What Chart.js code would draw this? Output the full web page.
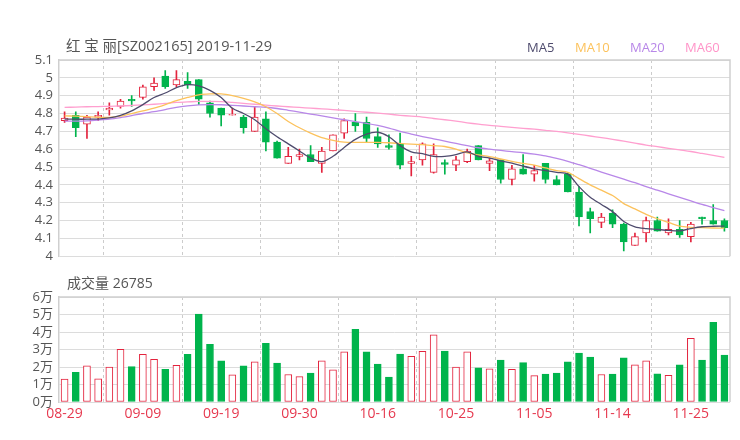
<!DOCTYPE html>
<html>
<head>
<meta charset="utf-8">
<script src="https://cdn.jsdelivr.net/npm/chart.js@4.4.1/dist/chart.umd.min.js"></script>
<style>
  body { margin: 0; background: #fff; }
  #wrap { position: relative; width: 740px; height: 440px; font-family: "Open Sans", "Noto Sans CJK SC", sans-serif; color: #555; }
  .txt { position: absolute; font-size: 14px; line-height: 1; white-space: nowrap; }
  .lg { position: absolute; top: 41px; font-size: 13px; line-height: 1; }
  #kline { position: absolute; left: 0; top: 0; }
  #vol { position: absolute; left: 0; top: 270px; }
</style>
</head>
<body>
<div id="wrap">
  <canvas id="kline" width="740" height="270"></canvas>
  <canvas id="vol" width="740" height="170"></canvas>
  <div class="txt" style="left:66px;top:39px;font-size:14.5px">红 宝 丽[SZ002165] 2019-11-29</div>
  <div class="txt" style="left:67px;top:276px">成交量 <span id="last-vol"></span></div>
  <div class="lg" style="left:527px;color:#4e4b6d">MA5</div>
  <div class="lg" style="left:575px;color:#fcc25c">MA10</div>
  <div class="lg" style="left:630px;color:#b887e8">MA20</div>
  <div class="lg" style="left:685px;color:#ff94c8">MA60</div>
</div>
<script>
// DATA
const dates = ["08-29","08-30","09-02","09-03","09-04","09-05","09-06","09-09","09-10","09-11",
  "09-12","09-16","09-17","09-18","09-19","09-20","09-23","09-24","09-25","09-26",
  "09-27","09-30","10-08","10-09","10-10","10-11","10-14","10-15","10-16","10-17",
  "10-18","10-21","10-22","10-23","10-24","10-25","10-28","10-29","10-30","10-31",
  "11-01","11-04","11-05","11-06","11-07","11-08","11-11","11-12","11-13","11-14",
  "11-15","11-18","11-19","11-20","11-21","11-22","11-25","11-26","11-27","11-28"];

const open = [4.76,4.79,4.74,4.78,4.82,4.84,4.88,4.89,4.95,5.01,4.96,4.98,4.99,4.86,4.83,4.79,4.78,4.70,4.77,4.64,
  4.52,4.56,4.57,4.52,4.59,4.69,4.75,4.75,4.67,4.62,4.63,4.52,4.54,4.47,4.525,4.51,4.53,4.62,4.52,4.54,
  4.43,4.49,4.46,4.52,4.43,4.46,4.36,4.25,4.19,4.24,4.18,4.06,4.13,4.20,4.13,4.15,4.11,4.22,4.20,4.20];
const close = [4.775,4.72,4.78,4.79,4.83,4.87,4.87,4.95,4.97,4.95,4.99,4.96,4.88,4.80,4.79,4.795,4.72,4.78,4.64,4.55,
  4.56,4.57,4.53,4.59,4.68,4.76,4.73,4.66,4.63,4.61,4.51,4.53,4.63,4.57,4.515,4.54,4.59,4.54,4.535,4.43,
  4.49,4.46,4.48,4.43,4.40,4.36,4.22,4.21,4.22,4.18,4.08,4.11,4.20,4.14,4.15,4.12,4.18,4.21,4.18,4.16];
const high = [4.81,4.81,4.79,4.81,4.86,4.88,4.90,4.96,5.00,5.04,5.04,5.03,4.99,4.87,4.83,4.83,4.79,4.84,4.81,4.645,
  4.61,4.60,4.62,4.61,4.68,4.77,4.80,4.78,4.72,4.68,4.69,4.56,4.635,4.63,4.54,4.56,4.60,4.62,4.55,4.54,
  4.51,4.57,4.51,4.52,4.45,4.47,4.39,4.27,4.24,4.26,4.185,4.13,4.22,4.22,4.21,4.20,4.19,4.22,4.29,4.21];
const low = [4.75,4.67,4.66,4.76,4.79,4.83,4.84,4.88,4.93,4.94,4.95,4.94,4.85,4.78,4.73,4.79,4.69,4.70,4.59,4.55,
  4.52,4.54,4.53,4.47,4.59,4.66,4.70,4.64,4.61,4.60,4.49,4.45,4.51,4.465,4.46,4.48,4.525,4.54,4.48,4.41,
  4.40,4.46,4.42,4.41,4.40,4.36,4.17,4.13,4.16,4.16,4.03,4.06,4.08,4.14,4.12,4.105,4.08,4.18,4.18,4.14];

const volume = [13100,17000,20600,13200,20000,30100,20200,27200,24400,18700,21000,27200,50300,32900,23500,15500,20600,22900,33500,22300,
  15700,14500,16500,23500,18400,28600,41500,28600,21600,14200,27400,26100,29000,38400,29100,20000,28600,19500,18900,24000,
  18700,22500,15100,15900,16500,22900,28000,25600,15700,15900,25300,21200,23500,16100,15300,21200,36400,23900,45500,26785];

const ma5 = [4.769,4.768,4.768,4.769,4.775,4.79,4.815,4.85,4.89,4.915,4.945,4.962,4.955,4.93,4.89,4.83,4.80,4.765,4.715,4.67,
  4.63,4.59,4.55,4.53,4.56,4.61,4.655,4.685,4.695,4.67,4.62,4.585,4.575,4.56,4.56,4.57,4.585,4.56,4.55,4.535,
  4.522,4.505,4.49,4.48,4.47,4.46,4.39,4.33,4.29,4.25,4.195,4.165,4.155,4.15,4.145,4.142,4.155,4.165,4.168,4.169];
const ma10 = [4.787,4.785,4.782,4.779,4.778,4.785,4.80,4.815,4.83,4.85,4.872,4.89,4.905,4.91,4.91,4.90,4.885,4.865,4.838,4.80,
  4.755,4.72,4.69,4.665,4.65,4.64,4.638,4.638,4.638,4.636,4.632,4.628,4.625,4.62,4.615,4.60,4.58,4.568,4.558,4.545,
  4.532,4.52,4.51,4.495,4.48,4.47,4.435,4.40,4.37,4.34,4.295,4.265,4.235,4.21,4.19,4.168,4.162,4.16,4.158,4.157];
const ma20 = [4.757,4.757,4.759,4.763,4.768,4.777,4.788,4.80,4.81,4.822,4.835,4.843,4.848,4.85,4.849,4.846,4.842,4.838,4.835,4.828,
  4.818,4.808,4.797,4.787,4.776,4.765,4.755,4.745,4.733,4.718,4.70,4.685,4.67,4.658,4.645,4.632,4.62,4.608,4.60,4.593,
  4.586,4.58,4.572,4.562,4.548,4.532,4.513,4.493,4.472,4.452,4.432,4.412,4.39,4.37,4.35,4.33,4.31,4.29,4.272,4.255];
const ma60 = [4.834,4.836,4.838,4.839,4.84,4.842,4.845,4.848,4.852,4.857,4.862,4.865,4.868,4.868,4.867,4.862,4.857,4.852,4.847,4.842,
  4.838,4.834,4.83,4.826,4.822,4.817,4.812,4.807,4.802,4.796,4.79,4.785,4.78,4.772,4.765,4.757,4.748,4.74,4.733,4.728,
  4.722,4.717,4.712,4.706,4.70,4.692,4.683,4.674,4.665,4.655,4.645,4.634,4.623,4.614,4.605,4.596,4.587,4.576,4.565,4.554];

const priceTicks = { min: 4, max: 5.1, step: 0.1 };
const volTicks = { min: 0, max: 60000, step: 10000 };

// STYLE
const RED = "#e3233d";
const GREEN = "#00b44c";
const isUp = (i) => close[i] >= open[i];

Chart.defaults.font.family = '"Open Sans", "Noto Sans CJK SC", sans-serif';
Chart.defaults.color = "#555";

document.getElementById("last-vol").innerText = volume[volume.length - 1];

// frame on top / right of plot area
const framePlugin = {
  id: "frame",
  beforeDatasetsDraw(chart) {
    const { ctx, chartArea: a } = chart;
    ctx.save();
    ctx.strokeStyle = "#cfcfcf";
    ctx.lineWidth = 1.5;
    ctx.beginPath();
    ctx.moveTo(a.left, a.top);
    ctx.lineTo(a.right, a.top);
    ctx.lineTo(a.right, a.bottom);
    ctx.stroke();
    ctx.restore();
  },
};

//* x axis shared settings
function xAxis(showLabels, height) {
  return {
    offset: true,
    grid: {
      offset: true,
      drawTicks: false,
      color: (c) => (c.index % 7 === 4 ? "#cccccc" : "rgba(0,0,0,0)"),
      lineWidth: 1,
    },
    border: { display: false, dash: [3, 3] },
    ticks: {
      display: showLabels,
      autoSkip: false,
      maxRotation: 0,
      padding: 4,
      color: "#e6394f",
      font: { size: 14 },
      callback: (v, i) => (i % 7 === 0 ? dates[i] : ""),
    },
    afterFit: (s) => { s.height = height; },
  };
}

//* y axis shared settings
function yAxis(t, fmt) {
  return {
    min: t.min,
    max: t.max,
    grid: { color: "#dcdcdc", drawTicks: false, lineWidth: 1 },
    border: { display: true, color: "#cfcfcf", width: 1.5 },
    ticks: { stepSize: t.step, autoSkip: false, padding: 6, font: { size: 13 }, color: "#555", callback: fmt },
    afterFit: (s) => { s.width = 59; },
  };
}

function maLine(data, color) {
  return {
    type: "line",
    data: data,
    borderColor: color,
    borderWidth: 1.3,
    pointRadius: 0,
    tension: 0.3,
    order: 1,
  };
}

// PRICE CHART
new Chart(document.getElementById("kline"), {
  type: "bar",
  data: {
    labels: dates,
    datasets: [
      maLine(ma5, "#4e4b6d"),
      maLine(ma10, "#fcc25c"),
      maLine(ma20, "#b887e8"),
      maLine(ma60, "#ff9fcf"),
      {
        label: "wick",
        data: dates.map((d, i) => [low[i], high[i]]),
        backgroundColor: (c) => (isUp(c.dataIndex) ? RED : GREEN),
        barThickness: 1,
        grouped: false,
        order: 3,
      },
      {
        label: "body",
        data: dates.map((d, i) => [open[i], close[i]]),
        backgroundColor: (c) => (isUp(c.dataIndex) ? "#ffffff" : GREEN),
        borderColor: (c) => (isUp(c.dataIndex) ? RED : GREEN),
        borderWidth: 1,
        borderSkipped: false,
        barThickness: 7,
        grouped: false,
        order: 2,
      },
    ],
  },
  options: {
    responsive: false,
    animation: false,
    layout: { padding: { top: 60, right: 10, bottom: 7, left: 0 } },
    plugins: { legend: { display: false }, tooltip: { enabled: false } },
    scales: {
      x: xAxis(false, 0),
      y: yAxis(priceTicks, (v) => String(+v.toFixed(1))),
    },
  },
  plugins: [framePlugin],
});

// VOLUME CHART
new Chart(document.getElementById("vol"), {
  type: "bar",
  data: {
    labels: dates,
    datasets: [
      {
        label: "volume",
        data: volume,
        backgroundColor: (c) => (isUp(c.dataIndex) ? "#ffffff" : GREEN),
        borderColor: (c) => (isUp(c.dataIndex) ? RED : GREEN),
        borderWidth: 1,
        borderSkipped: false,
        barThickness: 7,
      },
    ],
  },
  options: {
    responsive: false,
    animation: false,
    layout: { padding: { top: 27, right: 10, bottom: 0, left: 0 } },
    plugins: { legend: { display: false }, tooltip: { enabled: false } },
    scales: {
      x: xAxis(true, 38),
      y: yAxis(volTicks, (v) => Math.round(v / 10000) + "万"),
    },
  },
  plugins: [framePlugin],
});
</script>
</body>
</html>
